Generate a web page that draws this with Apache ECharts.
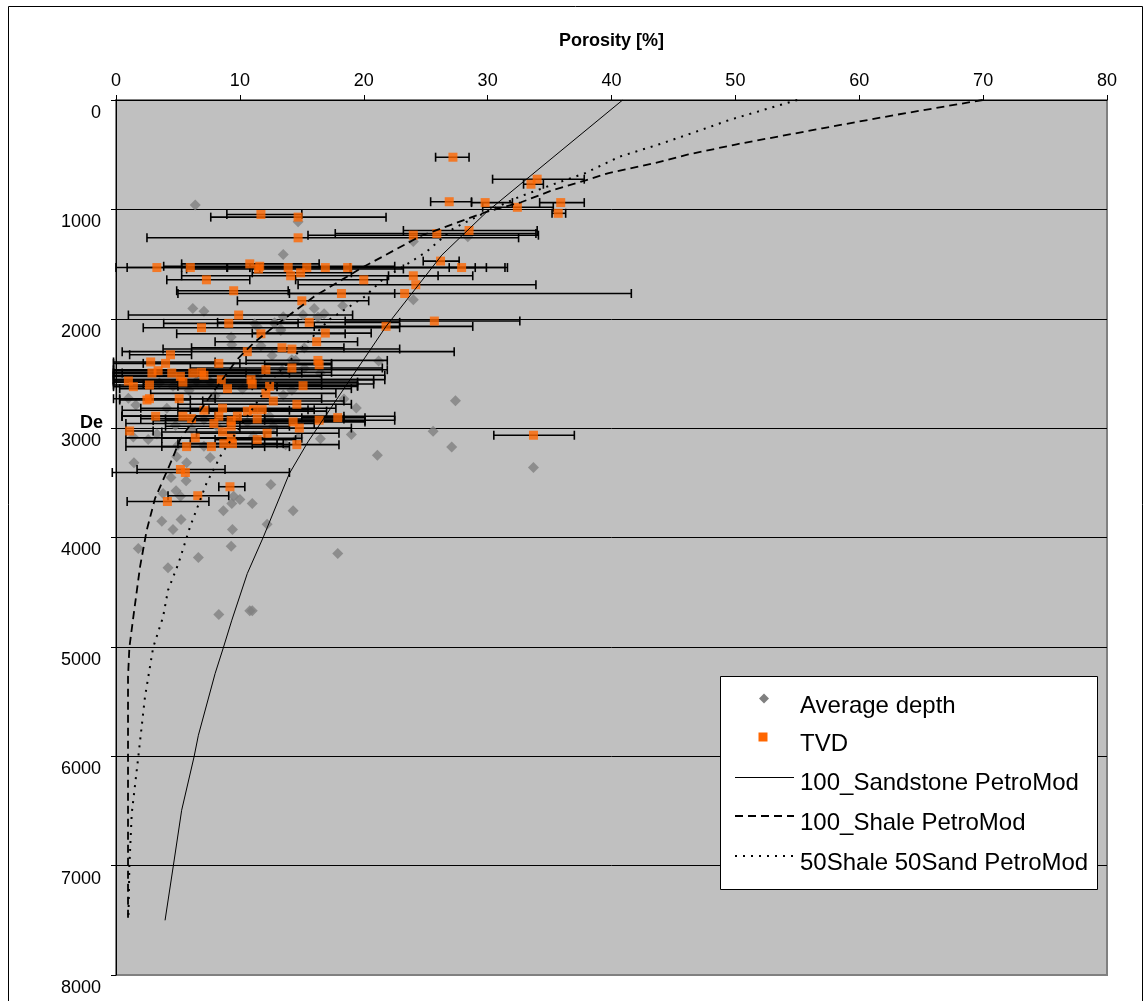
<!DOCTYPE html>
<html>
<head>
<meta charset="utf-8">
<title>Porosity vs depth</title>
<script src="https://cdn.jsdelivr.net/npm/echarts@6/dist/echarts.min.js"></script>
<style>
  html, body { margin: 0; padding: 0; background: #fff; }
  #chart { width: 1144px; height: 1001px; }
</style>
</head>
<body>
<div id="chart"></div>
<script>
// Measured porosity [%] against average depth [m]
const avgDepthPoints = [
  [6.4,959],[14.7,1114],[24.0,1294],[28.4,1251],[13.5,1413],[6.2,1906],[7.1,1932],[24.0,1826],
  [16.0,1906],[18.3,1881],[15.1,1963],[16.8,1954],[16.3,1985],[13.5,1982],[12.8,2037],[11.4,2070],
  [13.3,2094],[9.3,2167],[9.35,2238],[11.7,2247],[12.6,2335],[14.2,2374],[13.4,2471],[11.2,2046],
  [13.3,2107],[12.8,2046],[3.5,2587],[4.6,2618],[5.9,2657],[1.0,2727],[1.6,2788],[4.1,2818],
  [8.0,2703],[10.2,2642],[11.4,2542],[13.5,2697],[14.2,2654],[4.8,2977],[1.4,3080],[2.6,3105],
  [3.3,3053],[6.1,3007],[7.1,2922],[8.3,3001],[10.6,2946],[12.4,2891],[12.7,2983],[11.1,3074],
  [13.7,3151],[7.1,3165],[5.0,3156],[14.7,3089],[7.6,2575],[6.5,2572],[15.2,2268],[14.5,2380],
  [15.2,2453],[16.5,2496],[21.2,2386],[18.4,2733],[19.4,2816],[27.4,2749],[25.6,3029],[19.0,3059],
  [16.5,3096],[27.1,3172],[33.7,3360],[21.1,3247],[1.45,3317],[4.9,3262],[5.7,3317],[7.6,3268],
  [4.44,3451],[5.66,3482],[12.5,3515],[3.8,3598],[4.85,3573],[5.2,3622],[9.5,3622],[10.0,3652],
  [9.35,3689],[11.0,3689],[8.67,3756],[14.3,3756],[3.7,3851],[5.25,3835],[4.6,3927],[9.4,3927],
  [12.2,3878],[1.8,4101],[9.3,4080],[17.9,4146],[6.65,4183],[4.2,4277],[8.3,4705],[10.8,4670],
  [11.0,4670]
];

// Porosity [%] against TVD [m], with the low / high porosity range
// [porosity, depth, low, high]
const tvdPoints = [
  [27.2,523,25.8,28.5],[34.0,724,30.4,37.8],[33.5,770,32.9,34.5],[26.9,930,25.4,28.7],
  [29.8,938,28.7,32.0],[32.4,981,29.6,35.3],[35.9,938,34.2,37.8],[35.7,1036,35.2,36.3],
  [11.7,1047,8.95,15.0],[14.7,1071,7.65,21.8],[14.7,1260,2.5,32.5],[24.0,1236,15.5,34.1],
  [25.9,1221,17.7,33.9],[28.5,1193,23.2,34.0],[3.3,1532,0.0,8.95],[6.0,1532,0.9,10.8],
  [10.8,1498,5.3,16.4],[11.6,1520,3.85,22.5],[11.5,1545,5.7,23.2],[13.9,1532,9.0,18.9],
  [15.4,1532,5.3,29.9],[16.9,1532,10.8,31.4],[18.7,1532,11.6,31.6],[26.2,1473,24.8,27.7],
  [27.9,1532,26.9,29.0],[14.1,1607,5.3,28.8],[14.9,1580,11.0,19.0],[20.0,1644,14.5,21.9],
  [24.0,1607,22.0,26.0],[24.2,1689,14.7,33.9],[7.3,1644,4.1,10.8],[9.5,1744,4.9,13.9],
  [18.2,1769,14.0,22.5],[23.3,1769,5.0,41.6],[15.0,1836,9.8,20.4],[9.9,1966,1.0,19.1],
  [9.1,2042,3.85,14.7],[15.6,2033,8.2,22.9],[25.7,2021,18.5,32.6],[21.8,2070,16.0,28.8],
  [6.9,2082,2.2,22.9],[11.7,2137,4.9,18.5],[16.9,2131,11.0,20.6],[16.2,2210,8.0,19.5],
  [4.4,2329,1.1,6.1],[10.6,2301,0.5,27.3],[13.4,2265,6.1,18.4],[14.2,2277,3.8,22.9],
  [2.8,2395,-0.2,8.0],[4.0,2408,-0.2,10.0],[8.3,2408,2.2,17.4],[12.1,2466,-0.2,21.9],
  [14.2,2450,6.0,21.5],[16.3,2381,10.5,21.9],[16.4,2420,12.0,17.4],[2.9,2496,-0.2,10.5],
  [3.4,2475,-0.2,12.0],[4.5,2496,-0.2,14.0],[5.2,2527,-0.2,16.6],[5.4,2579,-0.2,19.5],
  [6.2,2496,0.5,15.0],[6.9,2490,-0.2,17.4],[7.1,2517,-0.2,21.7],[1.0,2569,-0.2,11.0],
  [1.4,2621,-0.2,13.0],[2.7,2606,-0.2,16.6],[8.5,2557,-0.2,20.8],[9.0,2639,0.3,19.0],
  [10.9,2557,-0.2,21.7],[11.0,2597,2.2,20.8],[12.4,2618,5.0,19.5],[12.1,2682,2.8,17.75],
  [15.1,2612,11.0,19.5],[2.5,2743,0.3,6.0],[2.7,2731,-0.2,8.0],[5.1,2731,0.3,16.6],
  [12.7,2752,7.0,18.4],[14.6,2782,5.0,19.0],[7.1,2837,0.5,14.0],[8.6,2818,2.0,17.75],
  [3.2,2891,0.5,8.0],[5.4,2891,0.5,12.0],[6.1,2913,2.0,10.0],[8.3,2891,0.5,18.4],
  [7.9,2958,0.8,16.0],[9.3,2931,3.0,20.1],[9.8,2891,0.5,22.5],[10.6,2845,5.0,17.0],
  [11.1,2831,6.0,16.0],[11.8,2831,7.5,15.5],[11.4,2916,4.0,18.4],[9.3,2983,4.0,14.0],
  [14.3,2943,9.0,20.1],[16.4,2928,12.0,22.5],[17.9,2904,15.0,20.1],[14.8,2999,10.0,19.0],
  [33.7,3065,30.5,37.0],[1.1,3026,0.8,3.0],[8.6,3035,3.7,13.0],[12.2,3047,6.5,18.0],
  [6.4,3089,0.8,12.0],[9.3,3092,3.7,15.0],[11.4,3105,8.0,14.5],[5.7,3169,0.8,14.0],
  [7.7,3169,3.7,12.0],[8.7,3142,5.0,13.0],[9.4,3142,6.0,13.5],[14.6,3151,11.0,18.0],
  [5.2,3378,1.7,8.8],[5.6,3406,-0.3,14.0],[9.2,3536,8.3,10.4],[6.6,3618,4.2,9.1],
  [4.15,3671,0.9,7.5]
];

// PetroMod compaction curves: [porosity, depth]
const sandstoneCurve = [
  [40.9,0],[29.95,1021],[26.3,1418],[21.8,2070],[15.5,3125],[14.0,3414],[11.9,3994],[10.6,4329],
  [9.35,4756],[8.67,5006],[8.0,5244],[6.65,5808],[6.3,6006],[5.3,6494],[4.63,7000],[3.96,7500]
];
const shaleCurve = [
  [69.97,0],[62.9,137],[57.0,259],[50.1,405],[46.2,498],[43.4,579],[39.7,670],[37.9,735],
  [35.3,822],[32.7,935],[29.95,1021],[24.65,1240],[19.8,1537],[16.0,1796],[12.6,2085],[11.1,2223],
  [9.75,2375],[7.6,2710],[5.17,3105],[4.5,3293],[3.15,3643],[2.48,3933],[1.94,4268],[1.4,4726],
  [1.08,5006],[0.97,5274],[0.97,7500]
];
const mixedCurve = [
  [55.0,0],[49.5,183],[48.0,244],[44.1,396],[40.65,518],[37.85,670],[35.3,771],[32.6,883],
  [29.95,1021],[27.25,1173],[25.1,1385],[21.5,1644],[20.1,1796],[17.2,2009],[12.8,2530],[11.6,2728],
  [8.54,3232],[7.3,3506],[5.98,3902],[5.04,4238],[4.2,4482],[3.8,4726],[3.0,5006],[2.34,5457],
  [1.8,6006],[1.27,6524],[1.08,7000],[1.0,7500]
];

const seriesNames = ['Average depth', 'TVD', '100_Sandstone PetroMod', '100_Shale PetroMod', '50Shale 50Sand PetroMod'];

const FONT = "'Liberation Sans', Arial, sans-serif";
const GRAY = '#808080';
const ORANGE = '#FF6600';
const SHALE_DASH = [8, 5];
const MIXED_DASH = [2, 6];

const chart = echarts.init(document.getElementById('chart'), null, { renderer: 'canvas' });

// horizontal range bars with end caps
function renderRangeBar(params, api) {
  const a = api.coord([api.value(0), api.value(2)]);
  const b = api.coord([api.value(1), api.value(2)]);
  const h = 4.5;
  const st = { stroke: '#000', lineWidth: 1.6 };
  return {
    type: 'group',
    children: [
      { type: 'line', shape: { x1: a[0], y1: a[1], x2: b[0], y2: b[1] }, style: st },
      { type: 'line', shape: { x1: a[0], y1: a[1] - h, x2: a[0], y2: a[1] + h }, style: st },
      { type: 'line', shape: { x1: b[0], y1: b[1] - h, x2: b[0], y2: b[1] + h }, style: st }
    ]
  };
}

// legend box, placed above the plot contents
const LX = 720, LY = 676, LZ = 200;
const rowY = [30.5, 68, 107, 147, 187];
const keyX0 = 15, keyX1 = 74, textX = 80;
const legendItems = [
  { type: 'rect', z: LZ, shape: { x: LX + 0.5, y: LY + 0.5, width: 377, height: 213 },
    style: { fill: '#fff', stroke: '#000', lineWidth: 1 } },
  { type: 'polygon', z: LZ + 1,
    shape: { points: [[LX + 44, LY + rowY[0] - 13], [LX + 49, LY + rowY[0] - 8], [LX + 44, LY + rowY[0] - 3], [LX + 39, LY + rowY[0] - 8]] },
    style: { fill: GRAY } },
  { type: 'rect', z: LZ + 1, shape: { x: LX + 38.5, y: LY + rowY[1] - 11.5, width: 9, height: 9 }, style: { fill: ORANGE } },
  { type: 'line', z: LZ + 1, shape: { x1: LX + keyX0, y1: LY + rowY[2] - 5.5, x2: LX + keyX1, y2: LY + rowY[2] - 5.5 },
    style: { stroke: '#000', lineWidth: 1 } },
  { type: 'line', z: LZ + 1, shape: { x1: LX + keyX0, y1: LY + rowY[3] - 7, x2: LX + keyX1, y2: LY + rowY[3] - 7 },
    style: { stroke: '#000', lineWidth: 2, lineDash: SHALE_DASH } },
  { type: 'line', z: LZ + 1, shape: { x1: LX + keyX0, y1: LY + rowY[4] - 7, x2: LX + keyX1, y2: LY + rowY[4] - 7 },
    style: { stroke: '#000', lineWidth: 2, lineDash: MIXED_DASH } }
].concat(seriesNames.map((n, i) => ({
  type: 'text', z: LZ + 1, x: LX + textX, y: LY + rowY[i],
  style: { text: n, fontFamily: FONT, fontSize: 24, fill: '#000', align: 'left', verticalAlign: 'middle' }
})));

const splitColors = ['#000','#000','#000','#000','#000','#000','#000','#000', GRAY];

chart.setOption({
  animation: false,
  backgroundColor: '#fff',
  textStyle: { fontFamily: FONT },
  grid: {
    left: 116, right: 37, top: 100, bottom: 26,
    show: true, backgroundColor: '#C0C0C0', borderColor: GRAY, borderWidth: 2
  },
  xAxis: {
    type: 'value', position: 'top', min: 0, max: 80, interval: 10,
    name: 'Porosity [%]', nameLocation: 'middle', nameGap: 50,
    nameTextStyle: { fontFamily: FONT, fontWeight: 'bold', fontSize: 18, color: '#000' },
    axisLine: { show: true, onZero: false, lineStyle: { color: '#000', width: 1 } },
    axisTick: { show: true, length: 5, lineStyle: { color: '#000' } },
    axisLabel: { fontFamily: FONT, fontSize: 18, color: '#000', margin: 10, formatter: v => String(v) },
    splitLine: { show: false }
  },
  yAxis: {
    type: 'value', inverse: true, min: 0, max: 8000, interval: 1000,
    axisLine: { show: true, onZero: false, lineStyle: { color: '#000', width: 1 } },
    axisTick: { show: true, length: 5, lineStyle: { color: '#000' } },
    axisLabel: { fontFamily: FONT, fontSize: 18, color: '#000', margin: 15, verticalAlign: 'top', lineHeight: 26,
                 formatter: v => String(v) },
    splitLine: { show: true, lineStyle: { color: splitColors, width: 1 } }
  },
  graphic: [
    {
      type: 'rect', silent: true, z: LZ,
      shape: { x: 8.5, y: 6.5, width: 1134, height: 1020 },
      style: { fill: 'none', stroke: '#000', lineWidth: 1 }
    },
    {
      type: 'text', x: 103, y: 423, z: LZ,
      style: { text: 'De', fontFamily: FONT, fontWeight: 'bold', fontSize: 18, fill: '#000', align: 'right', verticalAlign: 'middle' }
    }
  ].concat(legendItems),
  series: [
    {
      name: seriesNames[0], type: 'scatter', z: 2,
      symbol: 'diamond', symbolSize: 11,
      itemStyle: { color: GRAY },
      data: avgDepthPoints
    },
    {
      name: 'TVD range', type: 'custom', z: 3,
      renderItem: renderRangeBar,
      encode: { x: [0, 1], y: 2 },
      data: tvdPoints.map(p => [p[2], p[3], p[1]])
    },
    {
      name: seriesNames[1], type: 'scatter', z: 4,
      symbol: 'rect', symbolSize: 9,
      itemStyle: { color: ORANGE },
      data: tvdPoints.map(p => [p[0], p[1]])
    },
    {
      name: seriesNames[2], type: 'line', z: 5,
      symbol: 'none', showSymbol: false,
      lineStyle: { color: '#000', width: 1, type: 'solid' },
      data: sandstoneCurve
    },
    {
      name: seriesNames[3], type: 'line', z: 5,
      symbol: 'none', showSymbol: false,
      lineStyle: { color: '#000', width: 1.8, type: SHALE_DASH },
      data: shaleCurve
    },
    {
      name: seriesNames[4], type: 'line', z: 5,
      symbol: 'none', showSymbol: false,
      lineStyle: { color: '#000', width: 2, type: MIXED_DASH },
      data: mixedCurve
    }
  ]
});
</script>
</body>
</html>
